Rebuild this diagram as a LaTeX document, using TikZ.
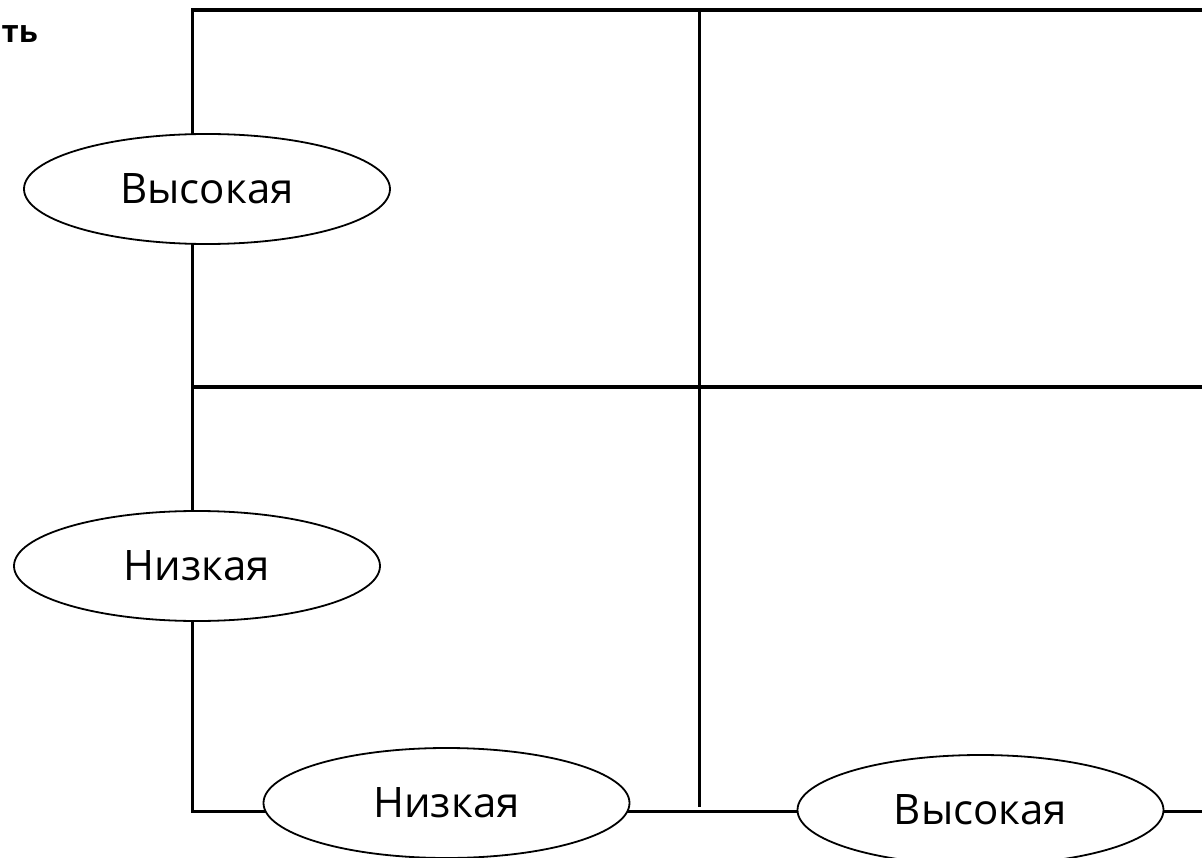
\documentclass[tikz,border=0pt]{standalone}
\usepackage{fontspec}
\setmainfont{Open Sans}
\usetikzlibrary{shapes.geometric}
\tikzset{
  grid line/.style={line width=3.2pt, line cap=butt},
  level/.style={ellipse, draw, fill=white, line width=1.8pt,
    minimum width=366pt, minimum height=110pt, inner sep=0pt,
    font=\fontsize{42}{50}\selectfont},
  axis title/.style={font=\fontsize{31}{37}\selectfont\bfseries, inner sep=0pt}
}
\begin{document}
\begin{tikzpicture}[x=1pt, y=-1pt]
  \useasboundingbox (0,0) rectangle (1202,858);

  % corners and ends of the grid
  \coordinate (tl) at (192.5,10);
  \coordinate (tr) at (1215,10);
  \coordinate (ml) at (192.5,387);
  \coordinate (mr) at (1215,387);
  \coordinate (bl) at (192.5,811.5);
  \coordinate (br) at (1215,811.5);
  \coordinate (vt) at (699.5,10);
  \coordinate (vb) at (699.5,807);

  % grid
  \draw[grid line] (tr) -- (tl) -- (bl) -- (br);
  \draw[grid line] (ml) -- (mr);
  \draw[grid line] (vt) -- (vb);

  % level labels on the axes
  \node[level] (yhigh) at (207,189) {Высокая};
  \node[level] (ylow)  at (197,566) {Низкая};
  \node[level] (xlow)  at (446.5,803) {Низкая};
  \node[level] (xhigh) at (980.5,810) {Высокая};

  % axis title
  \node[axis title, anchor=base east] (ytitle) at (38,43) {ть};
\end{tikzpicture}
\end{document}
